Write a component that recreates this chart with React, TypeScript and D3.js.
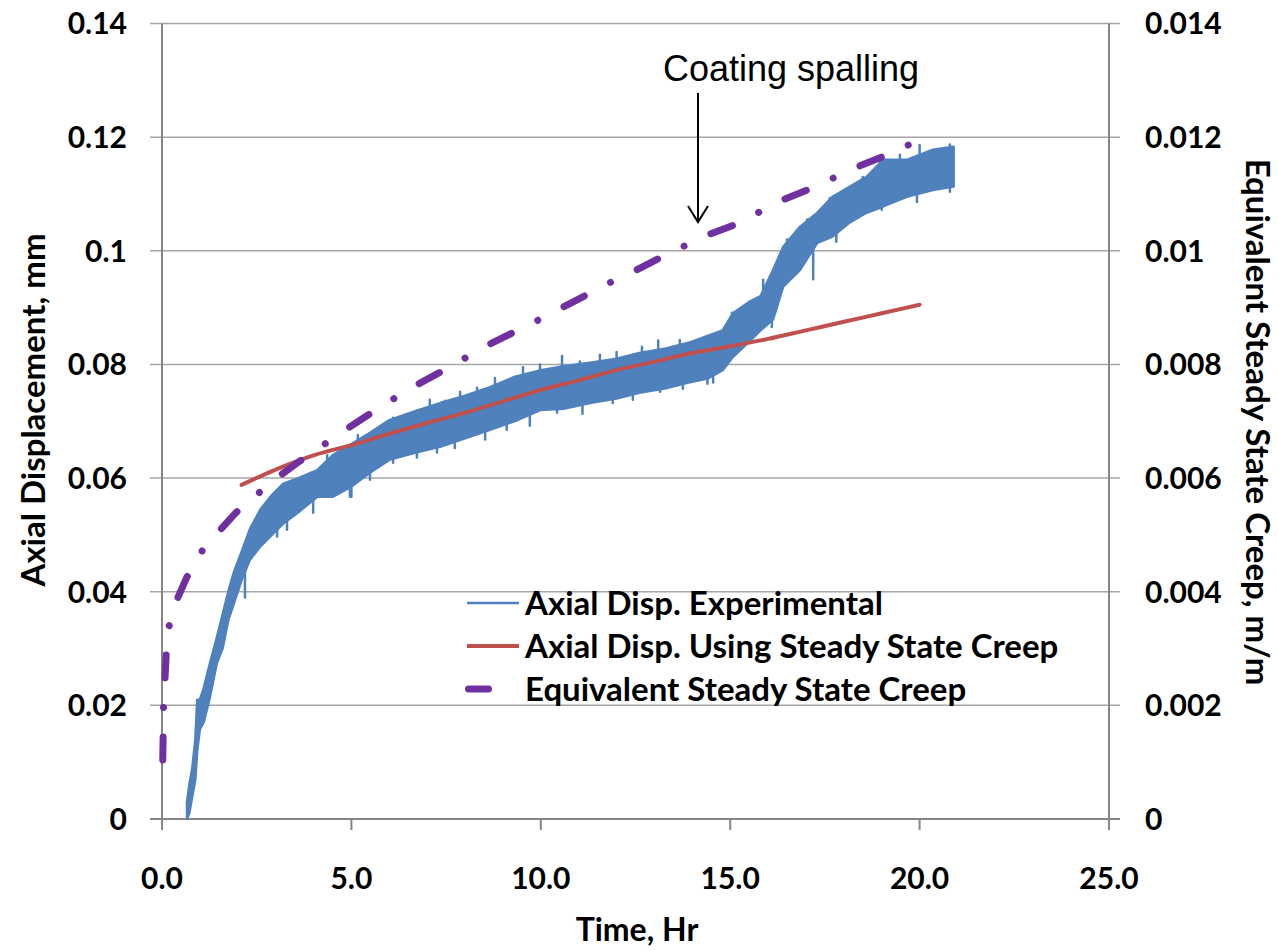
import React from "react";
import * as d3 from "d3";

// ---- Data ----
// Experimental axial displacement (mm): time (hr), lower and upper envelope of the noisy trace
const expTime = [0.66, 0.72, 0.8, 0.88, 0.93, 1.0, 1.1, 1.25, 1.45, 1.6, 1.75, 1.9, 2.1, 2.32, 2.6, 2.9, 3.2, 3.6, 4.1, 4.5, 5.0, 5.5, 6.0, 6.7, 7.34, 8.0, 8.66, 9.3, 10.0, 10.6, 11.3, 12.0, 12.6, 13.3, 13.9, 14.4, 14.8, 15.07, 15.5, 15.8, 16.13, 16.4, 16.84, 17.3, 17.7, 18.16, 18.6, 19.04, 19.66, 20.35, 20.9];
const expLow = [0.0, 0.001, 0.004, 0.007, 0.012, 0.0158, 0.017, 0.021, 0.0275, 0.03, 0.035, 0.038, 0.042, 0.0456, 0.048, 0.05, 0.052, 0.054, 0.0567, 0.0567, 0.0585, 0.061, 0.0632, 0.0645, 0.0655, 0.067, 0.0685, 0.07, 0.072, 0.0722, 0.0732, 0.074, 0.075, 0.0758, 0.0768, 0.0775, 0.079, 0.0813, 0.084, 0.086, 0.0879, 0.0937, 0.0966, 0.1014, 0.1025, 0.105, 0.1067, 0.1078, 0.1095, 0.1107, 0.1113];
const expHigh = [0.003, 0.006, 0.009, 0.014, 0.021, 0.021, 0.023, 0.027, 0.032, 0.036, 0.04, 0.0435, 0.047, 0.051, 0.0545, 0.057, 0.059, 0.06, 0.0614, 0.064, 0.066, 0.068, 0.0702, 0.0718, 0.0732, 0.0745, 0.076, 0.0778, 0.079, 0.0797, 0.0803, 0.081, 0.082, 0.0828, 0.0838, 0.085, 0.086, 0.089, 0.091, 0.092, 0.0966, 0.1007, 0.1042, 0.1067, 0.1095, 0.1113, 0.113, 0.116, 0.116, 0.1178, 0.1183];
// isolated spikes of the experimental trace (time, value)
const spikeTime = [
  2.59, 2.77, 2.93, 3.46, 4.36, 2.19, 3.04, 3.3, 3.99, 5.0,
  5.17, 6.1, 6.49, 7.07, 7.47, 7.87, 8.32, 8.79, 9.53, 9.98, 10.56, 11.03, 11.56, 12.0, 12.67, 13.1, 13.67,
  4.96, 5.49, 6.1, 6.73, 7.26, 7.73, 8.53, 9.1, 9.71, 10.43, 11.1, 11.9, 12.43, 13.15, 13.75, 14.4,
  15.05, 15.52, 15.87, 16.5, 17.03, 17.63, 18.5, 18.95, 19.48, 20.0, 20.8,
  14.55, 15.0, 16.1, 17.19, 17.8, 19.0, 19.93, 20.8
];
const spikeValue = [
  0.0526, 0.0544, 0.0567, 0.0593, 0.064, 0.039, 0.0497, 0.0509, 0.0539, 0.0567,
  0.0676, 0.0706, 0.0711, 0.0738, 0.0736, 0.0752, 0.0759, 0.0776, 0.0795, 0.080, 0.0815, 0.0805, 0.0817, 0.0822, 0.0831, 0.0842, 0.0843,
  0.0567, 0.0597, 0.0627, 0.0636, 0.0645, 0.0653, 0.0668, 0.0685, 0.0692, 0.0715, 0.0713, 0.0732, 0.0738, 0.0752, 0.0757, 0.0766,
  0.0891, 0.0908, 0.0949, 0.102, 0.1055, 0.1093, 0.113, 0.116, 0.1169, 0.1186, 0.1187,
  0.0768, 0.0808, 0.0866, 0.095, 0.1016, 0.1072, 0.1086, 0.1104
];

// Axial displacement using steady state creep (mm)
const ssTime = [2.1, 3, 4, 5, 6, 7, 8, 9, 10, 11, 12, 13, 14, 15, 16, 17, 18, 19, 20];
const ssValue = [0.0588, 0.0615, 0.064, 0.0658, 0.0678, 0.0697, 0.0715, 0.0735, 0.0755, 0.0772, 0.079, 0.0805, 0.082, 0.0832, 0.0845, 0.086, 0.0875, 0.089, 0.0905];

// Equivalent steady state creep (m/m), right axis
const eqTime = [0.02, 0.03, 0.04, 0.08, 0.11, 0.19, 0.42, 0.66, 1.06, 1.58, 1.95, 2.56, 3.17, 3.64, 4.96, 5.44, 6.1, 6.78, 7.31, 7.97, 8.66, 9.21, 9.9, 11.83, 12.49, 13.1, 13.75, 14.41, 15.05, 15.73, 16.4, 17.0, 17.69, 18.37, 19.0, 19.73];
const eqValue = [0.00104, 0.00144, 0.00197, 0.00248, 0.00289, 0.0034, 0.0039, 0.00426, 0.00472, 0.00512, 0.00539, 0.00574, 0.00607, 0.0063, 0.0069, 0.00711, 0.00739, 0.00766, 0.00785, 0.0081, 0.00836, 0.00854, 0.00877, 0.00944, 0.00965, 0.00986, 0.01007, 0.01028, 0.01044, 0.01067, 0.0109, 0.01106, 0.01127, 0.01148, 0.01165, 0.01187];

const xTicks = [0, 5, 10, 15, 20, 25];
const xTickLabels = ["0.0", "5.0", "10.0", "15.0", "20.0", "25.0"];
const leftTicks = [0, 0.02, 0.04, 0.06, 0.08, 0.1, 0.12, 0.14];
const leftTickLabels = ["0", "0.02", "0.04", "0.06", "0.08", "0.1", "0.12", "0.14"];
const rightTicks = [0, 0.002, 0.004, 0.006, 0.008, 0.01, 0.012, 0.014];
const rightTickLabels = ["0", "0.002", "0.004", "0.006", "0.008", "0.01", "0.012", "0.014"];

const seriesNames = ["Axial Disp. Experimental", "Axial Disp. Using Steady State Creep", "Equivalent Steady State Creep"];
const seriesColors = ["#4F81BD", "#C0504D", "#7030A0"];

export default function App() {
  const W = 1278, H = 951;
  const L = 162, R = 1109, T = 23.5, B = 819;
  const x = d3.scaleLinear().domain([0, 25]).range([L, R]);
  const yL = d3.scaleLinear().domain([0, 0.14]).range([B, T]);
  const yR = d3.scaleLinear().domain([0, 0.014]).range([B, T]);

  const expData = expTime.map((t, i) => ({ t, lo: expLow[i], hi: expHigh[i] }));
  const band = d3.area<any>().x(d => x(d.t)).y0(d => yL(d.lo)).y1(d => yL(d.hi))(expData) || "";
  const ssLine = d3.line<number>().x(d => x(d)).y((d, i) => yL(ssValue[i])).curve(d3.curveMonotoneX)(ssTime) || "";
  const eqLine = d3.line<number>().x(d => x(d)).y((d, i) => yR(eqValue[i])).curve(d3.curveLinear)(eqTime) || "";

  const gridColor = "#A6A6A6";
  const axisColor = "#868686";
  const font = "Lato, 'Open Sans', sans-serif";

  return (
    <svg width={W} height={H} style={{ position: "absolute", left: 0, top: 0, background: "#fff" }}>
      <rect x={0} y={0} width={W} height={H} fill="#fff" />
      {/* gridlines */}
      {leftTicks.map((v, i) => (
        <line key={"g" + i} x1={150} x2={1120} y1={yL(v)} y2={yL(v)} stroke={i === 0 ? axisColor : gridColor} strokeWidth={i === 0 ? 2 : 1.5} />
      ))}
      {/* axes */}
      <line x1={L} x2={L} y1={T} y2={830} stroke={axisColor} strokeWidth={2} />
      <line x1={R} x2={R} y1={T} y2={830} stroke={axisColor} strokeWidth={2} />
      {xTicks.map((v, i) => (
        <line key={"xt" + i} x1={x(v)} x2={x(v)} y1={B} y2={830} stroke={axisColor} strokeWidth={2} />
      ))}

      {/* experimental */}
      <path d={band} fill={seriesColors[0]} stroke={seriesColors[0]} strokeWidth={2.5} strokeLinejoin="round" />
      {spikeTime.map((t, i) => {
        const j = Math.max(1, Math.min(expTime.length - 1, d3.bisectLeft(expTime, t)));
        const a = expData[j - 1], b = expData[j];
        const f = (t - a.t) / (b.t - a.t);
        const mid = (a.lo + a.hi) / 2 + f * ((b.lo + b.hi) / 2 - (a.lo + a.hi) / 2);
        return <line key={"sp" + i} x1={x(t)} x2={x(t)} y1={yL(mid)} y2={yL(spikeValue[i])} stroke={seriesColors[0]} strokeWidth={2.5} strokeLinecap="round" />;
      })}
      {/* steady state */}
      <path d={ssLine} fill="none" stroke={seriesColors[1]} strokeWidth={4} strokeLinecap="round" />
      {/* equivalent creep */}
      <path d={eqLine} fill="none" stroke={seriesColors[2]} strokeWidth={7} strokeLinecap="round" strokeDasharray="23 29.5 0.01 29.5" />

      {/* tick labels */}
      {leftTicks.map((v, i) => (
        <text key={"ll" + i} x={127} y={yL(v)} dy="0.36em" textAnchor="end" fontFamily={font} fontWeight="bold" fontSize={30} fill="#000">{leftTickLabels[i]}</text>
      ))}
      {rightTicks.map((v, i) => (
        <text key={"rl" + i} x={1145} y={yR(v)} dy="0.36em" textAnchor="start" fontFamily={font} fontWeight="bold" fontSize={30} fill="#000">{rightTickLabels[i]}</text>
      ))}
      {xTicks.map((v, i) => (
        <text key={"xl" + i} x={x(v)} y={878} dy="0.36em" textAnchor="middle" fontFamily={font} fontWeight="bold" fontSize={30} fill="#000">{xTickLabels[i]}</text>
      ))}

      {/* axis titles */}
      <text transform="translate(45,410) rotate(-90)" textAnchor="middle" fontFamily={font} fontWeight="bold" fontSize={33} fill="#000">Axial Displacement, mm</text>
      <text transform="translate(1246,422) rotate(90)" textAnchor="middle" fontFamily={font} fontWeight="bold" fontSize={33} fill="#000">Equivalent Steady State Creep, m/m</text>
      <text x={637} y={941} textAnchor="middle" fontFamily={font} fontWeight="bold" fontSize={32} fill="#000">Time, Hr</text>

      {/* legend */}
      <line x1={467} x2={519} y1={603} y2={603} stroke={seriesColors[0]} strokeWidth={2.5} />
      <line x1={467} x2={519} y1={646} y2={646} stroke={seriesColors[1]} strokeWidth={4} />
      <line x1={468.5} x2={488.5} y1={689} y2={689} stroke={seriesColors[2]} strokeWidth={7} strokeLinecap="round" />
      {seriesNames.map((n, i) => (
        <text key={"lg" + i} x={525} y={603 + i * 43} dy="0.36em" fontFamily={font} fontWeight="bold" fontSize={33} fill="#000">{n}</text>
      ))}

      {/* annotation */}
      <text x={791} y={81} textAnchor="middle" fontFamily="'Liberation Sans', Arial, sans-serif" fontSize={36} fill="#000">Coating spalling</text>
      <line x1={698} x2={698} y1={93} y2={222} stroke="#000" strokeWidth={2} />
      <polyline points="688,206 698,222 708,206" fill="none" stroke="#000" strokeWidth={2} />
    </svg>
  );
}
